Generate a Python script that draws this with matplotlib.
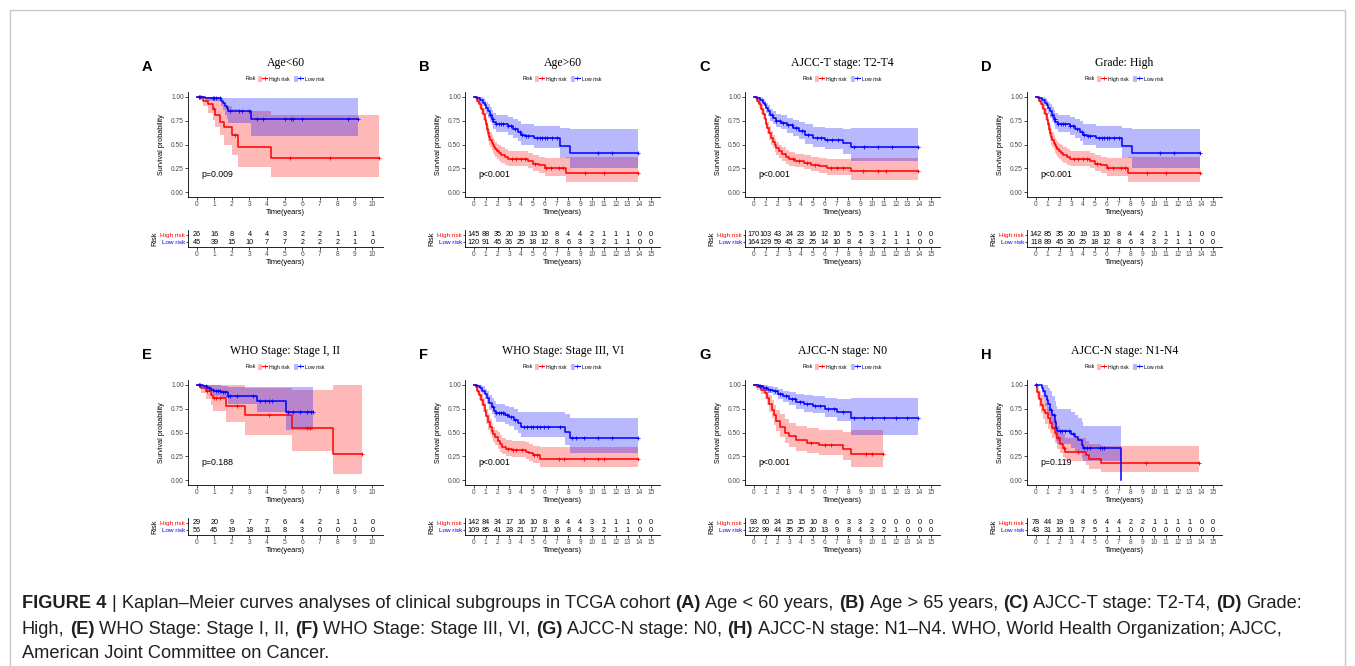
import numpy as np
import matplotlib
matplotlib.use("Agg")
import matplotlib.pyplot as plt
from matplotlib.lines import Line2D
from matplotlib.patches import Patch, Rectangle
from matplotlib.legend_handler import HandlerTuple

W, H = 1355, 666
RED = "#FF0000"
BLUE = "#0000FF"

panel_letters = ["A", "B", "C", "D", "E", "F", "G", "H"]
panel_titles = ["Age<60", "Age>60", "AJCC-T stage: T2-T4", "Grade: High",
                "WHO Stage: Stage I, II", "WHO Stage: Stage III, VI",
                "AJCC-N stage: N0", "AJCC-N stage: N1-N4"]
panel_pvals = ["p=0.009", "p<0.001", "p<0.001", "p<0.001",
               "p=0.188", "p<0.001", "p<0.001", "p=0.119"]
panel_tmax = [10, 15, 15, 15, 10, 15, 15, 15]

# rows: time, survival, lower CI, upper CI
A_high = [[0.00, 1.00, 1.00, 1.00], [0.38, 0.96, 0.90, 1.00], [0.62, 0.92, 0.83, 1.00],
          [0.95, 0.87, 0.76, 1.00], [1.05, 0.81, 0.68, 1.00], [1.30, 0.74, 0.60, 0.95],
          [1.55, 0.68, 0.49, 0.90], [2.00, 0.60, 0.39, 0.87], [2.35, 0.47, 0.26, 0.855],
          [4.25, 0.355, 0.155, 0.81], [10.40, 0.355, 0.155, 0.81]]
A_high_cens = [0.1, 0.25, 1.0, 2.2, 5.3, 7.6, 10.4]
A_low = [[0.00, 1.00, 1.00, 1.00], [0.45, 0.985, 0.96, 1.00], [1.35, 0.96, 0.90, 0.99],
         [1.50, 0.93, 0.86, 0.99], [1.60, 0.90, 0.81, 0.99], [1.70, 0.88, 0.77, 0.99],
         [1.80, 0.85, 0.73, 0.99], [3.10, 0.77, 0.585, 0.99], [9.20, 0.77, 0.585, 0.99]]
A_low_cens = [0.1, 0.2, 0.9, 1.0, 1.1, 1.3, 1.9, 2.4, 2.6, 3.0, 3.4, 3.75, 5.0, 5.35,
              5.5, 6.0, 8.6, 9.2]

B_high = [[0.00, 1.00, 1.00, 1.00], [0.15, 0.99, 0.97, 1.00], [0.30, 0.96, 0.93, 0.99],
          [0.45, 0.92, 0.88, 0.96], [0.60, 0.87, 0.82, 0.93], [0.75, 0.82, 0.76, 0.88],
          [0.90, 0.76, 0.69, 0.83], [1.00, 0.71, 0.64, 0.79], [1.10, 0.66, 0.59, 0.74],
          [1.20, 0.62, 0.54, 0.70], [1.30, 0.58, 0.50, 0.66], [1.40, 0.55, 0.47, 0.63],
          [1.50, 0.52, 0.44, 0.60], [1.60, 0.49, 0.41, 0.57], [1.70, 0.47, 0.39, 0.55],
          [1.80, 0.45, 0.37, 0.53], [1.95, 0.43, 0.35, 0.51], [2.10, 0.41, 0.33, 0.49],
          [2.30, 0.39, 0.31, 0.47], [2.60, 0.37, 0.29, 0.45], [2.90, 0.35, 0.27, 0.43],
          [4.60, 0.33, 0.25, 0.41], [5.00, 0.30, 0.22, 0.39], [5.50, 0.28, 0.20, 0.37],
          [6.00, 0.25, 0.17, 0.36], [7.80, 0.20, 0.105, 0.37], [13.90, 0.20, 0.105, 0.37]]
B_high_cens = [3.2, 3.6, 4.0, 4.3, 5.2, 6.1, 6.5, 7.2, 7.5, 9.4, 11.0, 13.9]
B_low = [[0.00, 1.00, 1.00, 1.00], [0.30, 0.99, 0.97, 1.00], [0.55, 0.97, 0.94, 1.00],
         [0.75, 0.94, 0.90, 0.99], [0.90, 0.91, 0.86, 0.97], [1.05, 0.88, 0.82, 0.95],
         [1.20, 0.85, 0.78, 0.92], [1.35, 0.81, 0.74, 0.89], [1.50, 0.77, 0.70, 0.86],
         [1.65, 0.74, 0.66, 0.83], [1.85, 0.72, 0.63, 0.81], [2.85, 0.69, 0.60, 0.79],
         [3.30, 0.66, 0.57, 0.77], [3.70, 0.635, 0.54, 0.75], [4.00, 0.60, 0.50, 0.72],
         [4.30, 0.59, 0.49, 0.71], [5.10, 0.565, 0.46, 0.69], [7.25, 0.485, 0.36, 0.67],
         [8.10, 0.41, 0.25, 0.66], [13.90, 0.41, 0.25, 0.66]]
B_low_cens = [1.4, 1.6, 1.9, 2.1, 2.3, 2.5, 2.9, 3.1, 3.5, 3.9, 4.1, 4.4, 4.6, 5.3, 5.6,
              5.8, 6.0, 6.2, 6.6, 7.0, 10.5, 11.7, 13.9]

C_high = [[0.00, 1.00, 1.00, 1.00], [0.15, 0.99, 0.97, 1.00], [0.30, 0.96, 0.93, 0.99],
          [0.45, 0.92, 0.88, 0.96], [0.60, 0.87, 0.82, 0.92], [0.75, 0.82, 0.77, 0.87],
          [0.90, 0.77, 0.71, 0.83], [1.00, 0.72, 0.66, 0.78], [1.15, 0.67, 0.61, 0.74],
          [1.30, 0.62, 0.55, 0.69], [1.45, 0.57, 0.50, 0.64], [1.60, 0.53, 0.46, 0.60],
          [1.75, 0.49, 0.42, 0.56], [1.90, 0.46, 0.39, 0.53], [2.10, 0.43, 0.36, 0.50],
          [2.40, 0.40, 0.33, 0.47], [2.70, 0.37, 0.30, 0.44], [3.00, 0.35, 0.28, 0.42],
          [3.50, 0.33, 0.26, 0.40], [4.20, 0.31, 0.24, 0.39], [4.80, 0.29, 0.22, 0.37],
          [5.50, 0.27, 0.20, 0.36], [6.20, 0.25, 0.18, 0.35], [8.20, 0.22, 0.13, 0.36],
          [13.90, 0.22, 0.13, 0.36]]
C_high_cens = [3.3, 3.8, 4.5, 5.2, 6.5, 7.0, 7.5, 9.2, 10.5, 11.2, 13.9]
C_low = [[0.00, 1.00, 1.00, 1.00], [0.30, 0.99, 0.97, 1.00], [0.55, 0.97, 0.94, 1.00],
         [0.75, 0.94, 0.90, 0.98], [0.90, 0.91, 0.87, 0.96], [1.05, 0.88, 0.83, 0.93],
         [1.20, 0.85, 0.80, 0.91], [1.40, 0.81, 0.75, 0.87], [1.60, 0.78, 0.72, 0.85],
         [1.85, 0.75, 0.68, 0.82], [2.30, 0.73, 0.66, 0.81], [2.80, 0.70, 0.62, 0.78],
         [3.30, 0.67, 0.59, 0.76], [3.80, 0.64, 0.56, 0.74], [4.30, 0.60, 0.51, 0.71],
         [5.00, 0.57, 0.47, 0.68], [6.00, 0.55, 0.45, 0.67], [7.50, 0.52, 0.40, 0.66],
         [8.20, 0.47, 0.33, 0.67], [13.90, 0.47, 0.33, 0.67]]
C_low_cens = [1.5, 1.9, 2.2, 2.5, 2.9, 3.2, 3.6, 4.1, 4.6, 5.3, 5.7, 6.2, 6.6, 7.1,
              8.5, 9.3, 10.5, 11.7, 13.9]

D_high = [[0.00, 1.00, 1.00, 1.00], [0.15, 0.99, 0.97, 1.00], [0.30, 0.96, 0.93, 0.99],
          [0.45, 0.92, 0.88, 0.96], [0.60, 0.87, 0.82, 0.93], [0.75, 0.82, 0.76, 0.88],
          [0.90, 0.76, 0.69, 0.83], [1.00, 0.71, 0.64, 0.79], [1.10, 0.66, 0.59, 0.74],
          [1.20, 0.62, 0.54, 0.70], [1.30, 0.58, 0.50, 0.66], [1.40, 0.55, 0.47, 0.63],
          [1.50, 0.52, 0.44, 0.60], [1.60, 0.49, 0.41, 0.57], [1.70, 0.47, 0.39, 0.55],
          [1.80, 0.45, 0.37, 0.53], [1.95, 0.43, 0.35, 0.51], [2.10, 0.41, 0.33, 0.49],
          [2.30, 0.39, 0.31, 0.47], [2.60, 0.37, 0.29, 0.45], [2.90, 0.35, 0.27, 0.43],
          [4.60, 0.33, 0.25, 0.41], [5.00, 0.30, 0.22, 0.39], [5.50, 0.28, 0.20, 0.37],
          [6.00, 0.25, 0.17, 0.36], [7.80, 0.20, 0.105, 0.37], [13.90, 0.20, 0.105, 0.37]]
D_high_cens = [3.2, 3.6, 4.0, 4.3, 5.2, 6.1, 6.5, 7.2, 7.5, 9.4, 11.0, 13.9]
D_low = [[0.00, 1.00, 1.00, 1.00], [0.30, 0.99, 0.97, 1.00], [0.55, 0.97, 0.94, 1.00],
         [0.75, 0.94, 0.90, 0.99], [0.90, 0.91, 0.86, 0.97], [1.05, 0.88, 0.82, 0.95],
         [1.20, 0.85, 0.78, 0.92], [1.35, 0.81, 0.74, 0.89], [1.50, 0.77, 0.70, 0.86],
         [1.65, 0.74, 0.66, 0.83], [1.85, 0.72, 0.63, 0.81], [2.85, 0.69, 0.60, 0.79],
         [3.30, 0.66, 0.57, 0.77], [3.70, 0.635, 0.54, 0.75], [4.00, 0.60, 0.50, 0.72],
         [4.30, 0.59, 0.49, 0.71], [5.10, 0.565, 0.46, 0.69], [7.25, 0.485, 0.36, 0.67],
         [8.10, 0.41, 0.25, 0.66], [13.90, 0.41, 0.25, 0.66]]
D_low_cens = [1.4, 1.6, 1.9, 2.1, 2.3, 2.5, 2.9, 3.1, 3.5, 3.9, 4.1, 4.4, 4.6, 5.3, 5.6,
              5.8, 6.0, 6.2, 6.6, 7.0, 10.5, 11.7, 13.9]

E_high = [[0.00, 1.00, 1.00, 1.00], [0.25, 0.97, 0.91, 1.00], [0.50, 0.93, 0.85, 1.00],
          [0.80, 0.89, 0.79, 1.00], [0.90, 0.86, 0.73, 1.00], [1.65, 0.78, 0.61, 1.00],
          [2.75, 0.68, 0.47, 0.97], [5.40, 0.545, 0.31, 0.95], [7.75, 0.27, 0.065, 1.00],
          [9.40, 0.27, 0.065, 1.00]]
E_high_cens = [0.15, 0.6, 1.0, 1.1, 1.3, 2.3, 4.1, 6.3, 6.45, 9.4]
E_low = [[0.00, 1.00, 1.00, 1.00], [0.35, 0.99, 0.97, 1.00], [0.60, 0.97, 0.93, 1.00],
         [0.80, 0.95, 0.90, 1.00], [1.00, 0.94, 0.88, 1.00], [1.40, 0.92, 0.86, 0.99],
         [1.75, 0.88, 0.80, 0.98], [3.45, 0.83, 0.72, 0.98], [5.05, 0.72, 0.53, 0.98],
         [6.60, 0.72, 0.53, 0.98]]
E_low_cens = [0.1, 0.2, 0.5, 0.7, 0.9, 1.1, 1.2, 1.3, 1.5, 1.6, 1.8, 1.9, 2.3, 3.2, 3.6,
              3.9, 4.1, 4.3, 5.2, 5.5, 5.9, 6.3, 6.5, 6.6]

F_high = [[0.00, 1.00, 1.00, 1.00], [0.15, 0.98, 0.95, 1.00], [0.30, 0.94, 0.90, 0.98],
          [0.45, 0.89, 0.84, 0.94], [0.60, 0.84, 0.78, 0.90], [0.75, 0.79, 0.72, 0.86],
          [0.90, 0.73, 0.66, 0.81], [1.05, 0.67, 0.59, 0.75], [1.20, 0.61, 0.53, 0.69],
          [1.35, 0.56, 0.48, 0.64], [1.50, 0.52, 0.44, 0.60], [1.65, 0.48, 0.40, 0.56],
          [1.80, 0.45, 0.37, 0.53], [2.00, 0.41, 0.33, 0.50], [2.20, 0.38, 0.30, 0.47],
          [2.40, 0.35, 0.27, 0.44], [2.70, 0.33, 0.25, 0.42], [3.20, 0.32, 0.24, 0.41],
          [4.40, 0.30, 0.22, 0.40], [4.70, 0.28, 0.20, 0.38], [5.00, 0.26, 0.18, 0.36],
          [5.60, 0.22, 0.14, 0.35], [13.90, 0.22, 0.14, 0.35]]
F_high_cens = [2.9, 3.3, 3.6, 4.1, 5.1, 5.3, 7.2, 7.6, 9.3, 10.5, 11.0, 13.9]
F_low = [[0.00, 1.00, 1.00, 1.00], [0.30, 0.99, 0.97, 1.00], [0.50, 0.97, 0.94, 1.00],
         [0.70, 0.94, 0.90, 0.99], [0.90, 0.90, 0.85, 0.96], [1.10, 0.86, 0.80, 0.93],
         [1.30, 0.81, 0.74, 0.89], [1.50, 0.77, 0.69, 0.86], [1.70, 0.73, 0.65, 0.83],
         [1.85, 0.70, 0.61, 0.80], [2.60, 0.68, 0.59, 0.78], [3.00, 0.66, 0.57, 0.77],
         [3.40, 0.63, 0.53, 0.75], [3.70, 0.60, 0.49, 0.72], [4.00, 0.555, 0.45, 0.71],
         [7.70, 0.505, 0.37, 0.69], [8.10, 0.44, 0.29, 0.65], [13.90, 0.44, 0.29, 0.65]]
F_low_cens = [1.6, 1.9, 2.1, 2.3, 2.5, 2.8, 3.1, 3.5, 4.2, 4.5, 4.8, 5.0, 5.3, 5.6, 5.9,
              6.3, 7.3, 8.3, 8.6, 9.3, 10.5, 11.7, 13.9]

G_high = [[0.00, 1.00, 1.00, 1.00], [0.30, 0.98, 0.95, 1.00], [0.60, 0.95, 0.90, 1.00],
          [0.90, 0.91, 0.85, 0.97], [1.10, 0.86, 0.79, 0.94], [1.30, 0.80, 0.72, 0.89],
          [1.50, 0.74, 0.65, 0.84], [1.70, 0.68, 0.58, 0.79], [1.90, 0.62, 0.52, 0.74],
          [2.20, 0.56, 0.45, 0.69], [2.60, 0.50, 0.39, 0.64], [3.00, 0.46, 0.35, 0.60],
          [3.60, 0.42, 0.31, 0.57], [4.50, 0.39, 0.28, 0.55], [5.50, 0.37, 0.26, 0.53],
          [7.50, 0.33, 0.21, 0.51], [8.20, 0.27, 0.14, 0.53], [10.90, 0.27, 0.14, 0.53]]
G_high_cens = [4.8, 6.0, 6.5, 9.5, 10.0, 10.9]
G_low = [[0.00, 1.00, 1.00, 1.00], [0.40, 0.99, 0.97, 1.00], [0.80, 0.97, 0.94, 1.00],
         [1.20, 0.95, 0.91, 0.99], [1.60, 0.93, 0.89, 0.98], [2.00, 0.90, 0.85, 0.96],
         [2.50, 0.88, 0.82, 0.94], [3.00, 0.85, 0.79, 0.92], [3.60, 0.82, 0.75, 0.90],
         [4.20, 0.80, 0.72, 0.89], [5.00, 0.78, 0.70, 0.88], [6.00, 0.75, 0.66, 0.86],
         [7.00, 0.72, 0.62, 0.85], [8.20, 0.655, 0.47, 0.86], [13.90, 0.655, 0.47, 0.86]]
G_low_cens = [0.5, 1.0, 1.4, 1.8, 2.2, 2.7, 3.2, 3.5, 3.9, 4.5, 5.2, 5.6, 6.3, 6.8, 7.5,
              8.5, 9.3, 10.0, 11.0, 12.0, 13.0, 13.9]

H_high = [[0.00, 1.00, 1.00, 1.00], [0.10, 0.92, 0.86, 0.98], [0.25, 0.85, 0.77, 0.94],
          [0.40, 0.79, 0.70, 0.89], [0.60, 0.74, 0.64, 0.85], [0.80, 0.70, 0.59, 0.81],
          [1.00, 0.65, 0.54, 0.77], [1.20, 0.60, 0.49, 0.73], [1.40, 0.55, 0.44, 0.68],
          [1.60, 0.50, 0.39, 0.63], [1.80, 0.44, 0.33, 0.57], [2.00, 0.38, 0.28, 0.52],
          [2.30, 0.34, 0.24, 0.48], [2.50, 0.30, 0.20, 0.44], [4.20, 0.26, 0.16, 0.41],
          [4.50, 0.22, 0.12, 0.38], [5.50, 0.18, 0.085, 0.36], [13.80, 0.18, 0.085, 0.36]]
H_high_cens = [0.05, 1.9, 2.4, 3.6, 9.3, 13.8]
H_low = [[0.00, 1.00, 1.00, 1.00], [0.50, 0.97, 0.91, 1.00], [0.60, 0.93, 0.85, 1.00],
         [0.75, 0.88, 0.78, 1.00], [0.90, 0.84, 0.72, 1.00], [1.00, 0.80, 0.67, 0.97],
         [1.20, 0.74, 0.60, 0.93], [1.40, 0.68, 0.53, 0.88], [1.60, 0.61, 0.46, 0.83],
         [1.70, 0.55, 0.41, 0.78], [1.80, 0.52, 0.38, 0.75], [3.00, 0.48, 0.34, 0.71],
         [3.30, 0.45, 0.31, 0.68], [3.60, 0.42, 0.28, 0.65], [3.90, 0.37, 0.23, 0.61],
         [4.00, 0.335, 0.20, 0.57], [7.20, 0.00, 0.20, 0.57]]
H_low_cens = [0.05, 1.3, 1.5, 2.0, 2.2, 2.5, 2.8, 3.1, 4.1, 4.3, 4.6, 5.4, 5.6, 5.8]

# numbers at risk
A_high_n = [26, 16, 8, 4, 4, 3, 2, 2, 1, 1, 1]
A_low_n = [45, 39, 15, 10, 7, 7, 2, 2, 2, 1, 0]
B_high_n = [145, 88, 35, 20, 19, 13, 10, 8, 4, 4, 2, 1, 1, 1, 0, 0]
B_low_n = [120, 91, 45, 36, 25, 18, 12, 8, 6, 3, 3, 2, 1, 1, 0, 0]
C_high_n = [170, 103, 43, 24, 23, 16, 12, 10, 5, 5, 3, 1, 1, 1, 0, 0]
C_low_n = [164, 129, 59, 45, 32, 25, 14, 10, 8, 4, 3, 2, 1, 1, 0, 0]
D_high_n = [142, 85, 35, 20, 19, 13, 10, 8, 4, 4, 2, 1, 1, 1, 0, 0]
D_low_n = [118, 89, 45, 36, 25, 18, 12, 8, 6, 3, 3, 2, 1, 1, 0, 0]
E_high_n = [29, 20, 9, 7, 7, 6, 4, 2, 1, 1, 0]
E_low_n = [56, 45, 19, 18, 11, 8, 3, 0, 0, 0, 0]
F_high_n = [142, 84, 34, 17, 16, 10, 8, 8, 4, 4, 3, 1, 1, 1, 0, 0]
F_low_n = [109, 85, 41, 28, 21, 17, 11, 10, 8, 4, 3, 2, 1, 1, 0, 0]
G_high_n = [93, 60, 24, 15, 15, 10, 8, 6, 3, 3, 2, 0, 0, 0, 0, 0]
G_low_n = [122, 99, 44, 35, 25, 20, 13, 9, 8, 4, 3, 2, 1, 0, 0, 0]
H_high_n = [78, 44, 19, 9, 8, 6, 4, 4, 2, 2, 1, 1, 1, 1, 0, 0]
H_low_n = [43, 31, 16, 11, 7, 5, 1, 1, 0, 0, 0, 0, 0, 0, 0, 0]

curves = [(A_high, A_high_cens, A_low, A_low_cens), (B_high, B_high_cens, B_low, B_low_cens),
          (C_high, C_high_cens, C_low, C_low_cens), (D_high, D_high_cens, D_low, D_low_cens),
          (E_high, E_high_cens, E_low, E_low_cens), (F_high, F_high_cens, F_low, F_low_cens),
          (G_high, G_high_cens, G_low, G_low_cens), (H_high, H_high_cens, H_low, H_low_cens)]
at_risk = [(A_high_n, A_low_n), (B_high_n, B_low_n), (C_high_n, C_low_n), (D_high_n, D_low_n),
           (E_high_n, E_low_n), (F_high_n, F_low_n), (G_high_n, G_low_n), (H_high_n, H_low_n)]

caption_lines = [
    [("FIGURE 4", True), ("| Kaplan\u2013Meier curves analyses of clinical subgroups in TCGA cohort", False),
     ("(A)", True), ("Age < 60 years,", False), ("(B)", True), ("Age > 65 years,", False),
     ("(C)", True), ("AJCC-T stage: T2-T4,", False), ("(D)", True), ("Grade:", False)],
    [("High,", False), ("(E)", True), ("WHO Stage: Stage I, II,", False), ("(F)", True),
     ("WHO Stage: Stage III, VI,", False), ("(G)", True), ("AJCC-N stage: N0,", False),
     ("(H)", True), ("AJCC-N stage: N1\u2013N4. WHO, World Health Organization; AJCC,", False)],
    [("American Joint Committee on Cancer.", False)],
]

SANS = "Liberation Sans"
SERIF = "Liberation Serif"
plt.rcParams["font.family"] = [SANS, "DejaVu Sans"]

col_left = [188, 465, 745, 1027]
row_top = [92, 380]
AX_W = 195
KM_H = 105
RISK_TOP = 138   # offset from row top
RISK_H = 17


def px_axes(fig, l, t, r, b):
    return fig.add_axes([l / W, 1 - b / H, (r - l) / W, (b - t) / H])


def surv_at(rows, c):
    a = np.array(rows)
    i = np.searchsorted(a[:, 0], c, side="right") - 1
    return a[max(i, 0), 1]


def style_axis(ax, tmax):
    xmax = 10.6 if tmax == 10 else 15.75
    xmin = -0.5 if tmax == 10 else -0.75
    ax.set_xlim(xmin, xmax)
    for sp in ["top", "right"]:
        ax.spines[sp].set_visible(False)
    for sp in ["left", "bottom"]:
        ax.spines[sp].set_linewidth(0.6)
    ax.set_xticks(range(tmax + 1))
    ax.tick_params(labelsize=4.8, length=2, width=0.5, pad=1, labelcolor="#4d4d4d")


fig = plt.figure(figsize=(W / 100, H / 100), dpi=100)
fig.patch.set_facecolor("white")

for k in range(8):
    r, c = divmod(k, 4)
    left = col_left[c]
    top = row_top[r]
    tmax = panel_tmax[k]
    high, high_cens, low, low_cens = curves[k]

    ax = px_axes(fig, left, top, left + AX_W, top + KM_H)
    for rows, col in [(high, RED), (low, BLUE)]:
        a = np.array(rows)
        ax.fill_between(a[:, 0], a[:, 2], a[:, 3], step="post", color=col, alpha=0.28, lw=0)
    for rows, cens, col in [(high, high_cens, RED), (low, low_cens, BLUE)]:
        a = np.array(rows)
        ax.step(a[:, 0], a[:, 1], where="post", color=col, lw=1.1)
        ax.plot(cens, [surv_at(rows, x) for x in cens], ls="none", marker="+",
                ms=3.5, mew=0.6, color=col)
    style_axis(ax, tmax)
    ax.set_ylim(-0.05, 1.05)
    ax.set_yticks([0, 0.25, 0.5, 0.75, 1.0])
    ax.set_yticklabels(["0.00", "0.25", "0.50", "0.75", "1.00"])
    ax.set_xlabel("Time(years)", fontsize=5.3, labelpad=0.3)
    ax.set_ylabel("Survival probability", fontsize=5.2, labelpad=4)
    ax.text(0.25 if tmax == 10 else 0.35, 0.19, panel_pvals[k], fontsize=6.3, va="center")

    ax.text(0.5, 1.28, panel_titles[k], transform=ax.transAxes, ha="center", va="center",
            fontsize=8.5, family=SERIF)
    ax.text(0.35, 1.125, "Risk", transform=ax.transAxes, ha="right", va="center", fontsize=3.8)
    handles = [(Patch(facecolor=col, alpha=0.28, lw=0),
                Line2D([], [], color=col, lw=0.8, marker="+", ms=2.5, mew=0.5))
               for col in (RED, BLUE)]
    ax.legend(handles, ["High risk", "Low risk"], handler_map={tuple: HandlerTuple(ndivide=None)},
              loc="center left", bbox_to_anchor=(0.36, 1.125), ncol=2, fontsize=3.8,
              frameon=False, handlelength=1.6, handletextpad=0.5, columnspacing=0.8,
              borderpad=0, borderaxespad=0, handleheight=1.2)

    fig.text((left - 46) / W, 1 - (top - 25) / H, panel_letters[k], fontsize=10.5,
             fontweight="bold", ha="left", va="center")

    # risk table
    high_n, low_n = at_risk[k]
    rk = px_axes(fig, left, top + RISK_TOP, left + AX_W, top + RISK_TOP + RISK_H)
    style_axis(rk, tmax)
    rk.set_ylim(-0.7, 1.7)
    for t in range(tmax + 1):
        rk.text(t, 1, str(high_n[t]), ha="center", va="center", fontsize=5.2)
        rk.text(t, 0, str(low_n[t]), ha="center", va="center", fontsize=5.2)
    rk.set_yticks([0, 1])
    rk.set_yticklabels(["Low risk", "High risk"])
    rk.tick_params(axis="y", pad=0.5, length=1.5, labelsize=4.6)
    for lab, col in zip(rk.get_yticklabels(), [BLUE, RED]):
        lab.set_color(col)
    rk.set_xlabel("Time(years)", fontsize=5.3, labelpad=0.3)
    rk.set_ylabel("Risk", fontsize=5.3, labelpad=1.5)

# outer frame
fig.add_artist(Rectangle((10 / W, -0.05), 1335 / W, 1 - 10 / H + 0.05, transform=fig.transFigure,
                         fill=False, edgecolor="#c8c8c8", lw=1.0))

# caption with bold run markers
renderer = fig.canvas.get_renderer()
CAP_SIZE = 13.15
probe_a = fig.text(0, 0, "xx", fontsize=CAP_SIZE)
probe_b = fig.text(0, 0, "x x", fontsize=CAP_SIZE)
space_w = probe_b.get_window_extent(renderer).width - probe_a.get_window_extent(renderer).width
probe_a.remove()
probe_b.remove()
for line, y in zip(caption_lines, [604, 629, 653]):
    x = 22
    for txt, bold in line:
        t = fig.text(x / W, 1 - y / H, txt, fontsize=CAP_SIZE, color="#231f20",
                     fontweight="bold" if bold else "normal", ha="left", va="center")
        x += t.get_window_extent(renderer).width + space_w

fig.savefig("out.png", dpi=100)
